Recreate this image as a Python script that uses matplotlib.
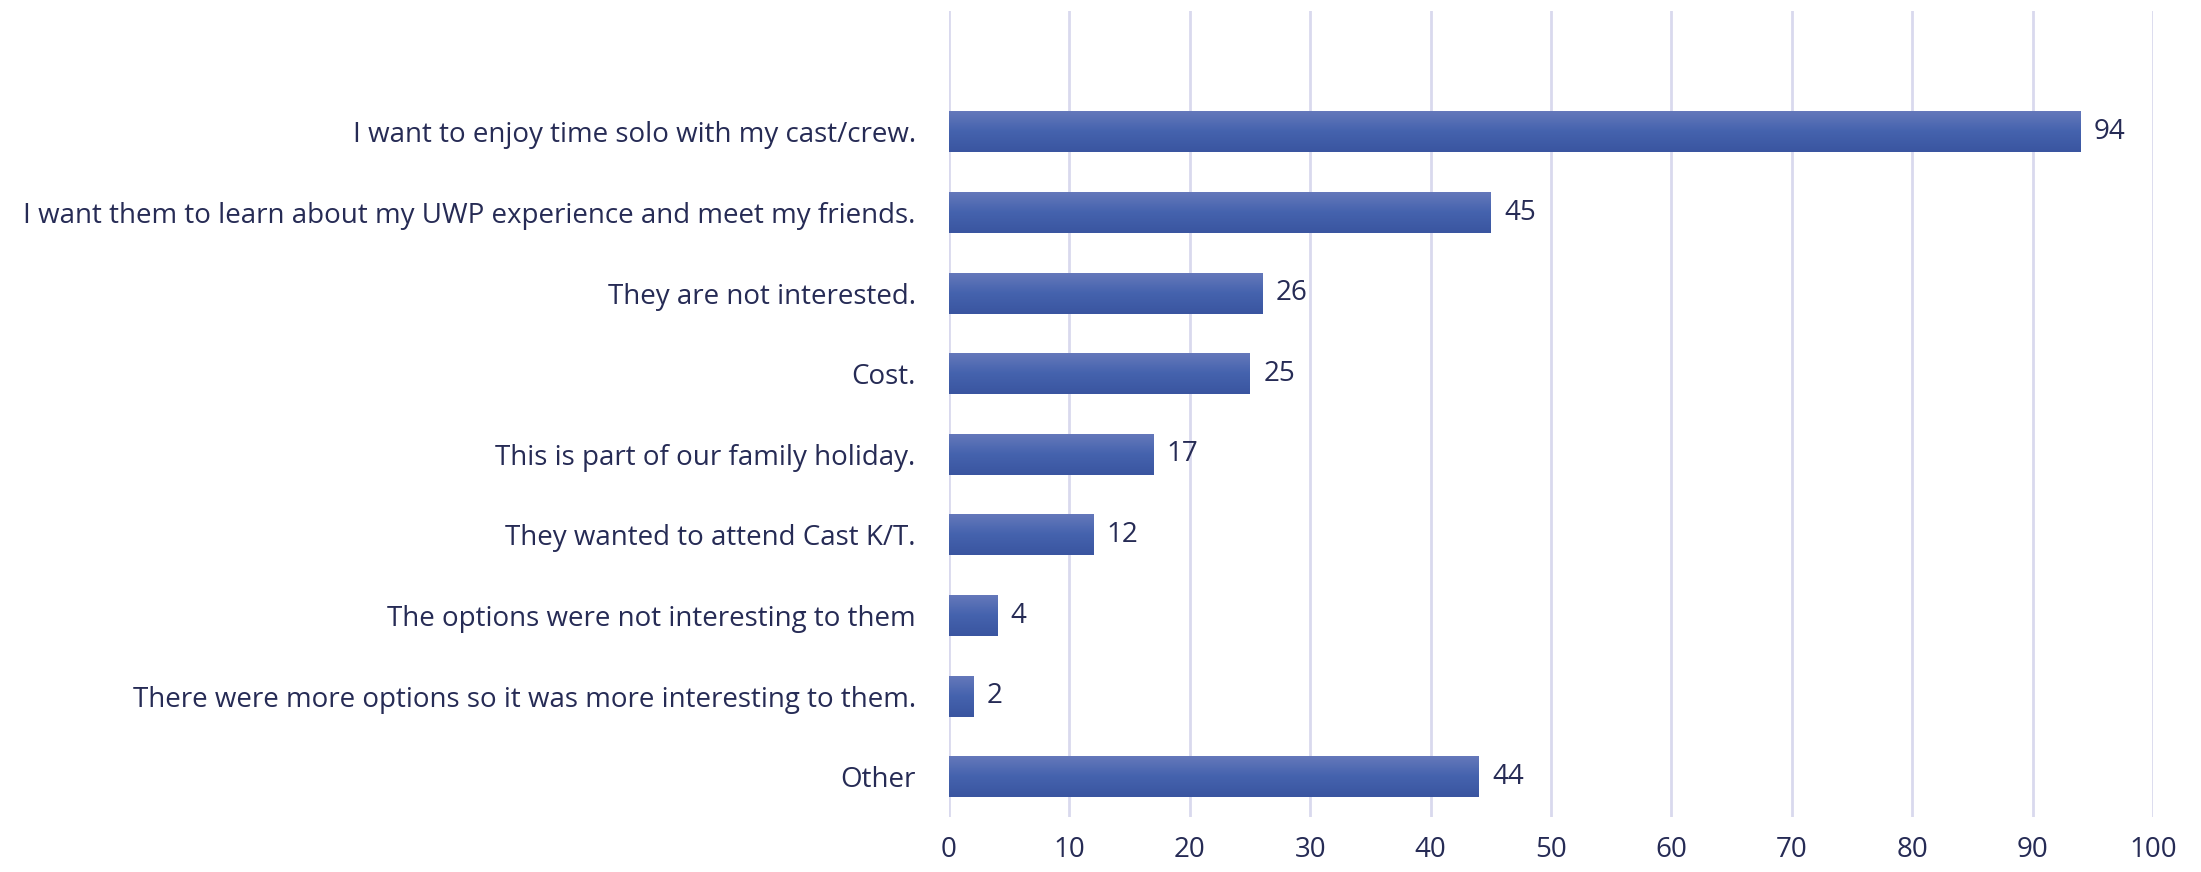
import matplotlib
matplotlib.use("Agg")
import matplotlib.pyplot as plt
import numpy as np
from matplotlib.colors import LinearSegmentedColormap

categories = [
    "I want to enjoy time solo with my cast/crew.",
    "I want them to learn about my UWP experience and meet my friends.",
    "They are not interested.",
    "Cost.",
    "This is part of our family holiday.",
    "They wanted to attend Cast K/T.",
    "The options were not interesting to them",
    "There were more options so it was more interesting to them.",
    "Other",
]
values = [94, 45, 26, 25, 17, 12, 4, 2, 44]
x_ticks = [0, 10, 20, 30, 40, 50, 60, 70, 80, 90, 100]

text_color = "#262b55"
grid_color = "#d9d9ee"
grad = LinearSegmentedColormap.from_list("bar", ["#6679bb", "#4563ae", "#3a55a0"])

plt.rcParams['font.family'] = ['Open Sans', 'DejaVu Sans']

fig = plt.figure(figsize=(22.01, 8.72), dpi=100)
ax = fig.add_axes([949 / 2201, 1 - 817 / 872, (2153 - 949) / 2201, (817 - 11) / 872])

pos = np.arange(len(categories))
bar_h = 0.51
bars = ax.barh(pos, values, height=bar_h, color="#4563ae", zorder=2)

# vertical gradient inside each bar
g = np.linspace(0, 1, 64).reshape(-1, 1)
for b in bars:
    x0, y0 = b.get_x(), b.get_y()
    w, h = b.get_width(), b.get_height()
    im = ax.imshow(g, cmap=grad, aspect="auto", extent=[x0, x0 + w, y0 + h, y0],
                   zorder=3, interpolation="bilinear")
    im.set_clip_path(b)

for p, v in zip(pos, values):
    ax.text(v + 1.1, p, str(v), va="center", ha="left", fontsize=20, color=text_color)

ax.set_xlim(0, 100)
ax.set_ylim(len(categories) - 0.5, -1.5)
ax.set_xticks(x_ticks)
ax.set_yticks(pos)
ax.set_yticklabels(categories)
ax.tick_params(axis="both", length=0, labelsize=20, colors=text_color)
ax.tick_params(axis="y", pad=24)
ax.tick_params(axis="x", pad=14)
ax.xaxis.grid(True, color=grid_color, linewidth=2, zorder=0)
for s in ax.spines.values():
    s.set_visible(False)

plt.savefig("out.png", dpi=100)
plt.close()
